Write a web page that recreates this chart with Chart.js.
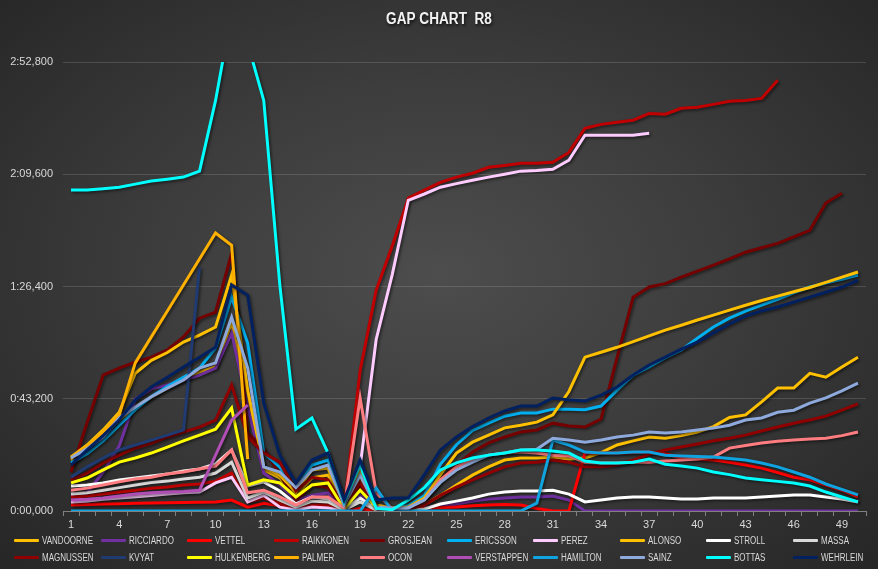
<!DOCTYPE html>
<html>
<head>
<meta charset="utf-8">
<script src="https://cdn.jsdelivr.net/npm/chart.js@4.4.1/dist/chart.umd.min.js"></script>
<style>
  html, body { margin: 0; padding: 0; }
  body {
    width: 878px; height: 569px; overflow: hidden; position: relative;
    background: radial-gradient(ellipse farthest-corner at 50% 48%, #4d4d4d 0%, #3d3d3d 45%, #262626 100%);
  }
  #gap { position: absolute; left: 0; top: 0; }
  #legend {
    position: absolute; left: 14px; top: 532px;
    display: grid; grid-template-columns: repeat(10, 86.5px); grid-auto-rows: 17px;
    font-family: 'Liberation Sans', Arial, sans-serif;
    font-size: 10px; color: #d9d9d9;
  }
  .item { display: flex; align-items: center; white-space: nowrap; }
  .sw { flex: none; width: 25px; height: 3px; margin-right: 3px; border-radius: 1px; }
  .lbl { display: inline-block; transform: scaleX(0.8); transform-origin: left center; }
</style>
</head>
<body>
<canvas id="gap" width="878" height="569"></canvas>
<div id="legend"></div>
<script>
const laps = ['1','2','3','4','5','6','7','8','9','10','11','12','13','14','15','16','17','18','19','20',
  '21','22','23','24','25','26','27','28','29','30','31','32','33','34','35','36','37','38','39','40',
  '41','42','43','44','45','46','47','48','49','50'];

// gap to leader in seconds, per lap
const vandoorne = [19.6, 24, 29, 35, 40, 43.8, 47.3, 50.4, 53.5, 55.4, 72.7, 42.7, 15.8, 12.7, 6, 12.7, 13.8, 1.5, 12, 2.3,
  1.2, 1, 2.5, 6, 10, 13.8, 17, 19.6, 20.4, 20.4, 20.8, 20, 20.4, 22.5, 25.4, 27, 28.5, 28, 29, 30.4,
  32.5, 36, 37, 42, 47.3, 47.3, 53, 51.5, 55.4, 59.2];
const ricciardo = [6, 7, 15, 25, 43, 47, 48.5, 50.4, 52.3, 55, 68.5, 40, 14.6, 10, 4.2, 6, 7, 0.8, 6, 1,
  0.4, 0.8, 1.2, 2, 2.7, 3.8, 4.6, 5, 5.4, 5.4, 5.8, 4.2, 0, 0, 0, 0, 0, 0, 0, 0,
  0, 0, 0, 0, 0, 0, 0, 0, 0, 0];
const vettel = [2.3, 2.5, 2.7, 2.8, 3, 3.1, 3.2, 3.3, 3.4, 3.5, 4.2, 1.5, 3, 2, 0.8, 2, 1.2, 0, 1, 0,
  0, 0.5, 1, 1.3, 1.5, 2, 2.3, 2.5, 2.3, 1, 0, 0, 22.3, 22.3, 22.3, 22.5, 22.7, 22, 20.4, 20,
  19.6, 18.8, 17.7, 16.5, 14.8, 13, 12, 10, 8, 5.4];
const raikkonen = [5.4, 5.8, 6.5, 7.3, 8, 8.8, 9.2, 10, 10.4, 11.5, 14.6, 3.5, 5, 3, 0.8, 2.3, 2.3, 0.4, 54, 85,
  102, 120.4, 123.5, 126.5, 128.5, 130, 132.3, 133, 133.8, 133.8, 134.2, 138, 147.3, 148.8, 149.6, 150.4, 153, 152.7, 155, 155.4,
  156.5, 157.7, 158, 158.8, 165.8, null, null, null, null, null];
const grosjean = [15, 34, 52.3, 55, 57.3, 59.2, 62, 67, 74.2, 76.5, 99.2, 30, 24, 14, 4, 10, 9, 0.8, 9.6, 0.8,
  0.4, 1.2, 4.2, 12, 17.7, 22.7, 26.2, 28.5, 30.4, 31.2, 33.8, 32.7, 32.3, 35.4, 59, 82.3, 86.2, 87.5, 90, 92.3,
  94.6, 97, 99.6, 101.3, 103, 105.5, 108, 118.5, 122.3, null];
const ericsson = [18.5, 22, 27, 33, 39, 44, 48, 51.5, 55, 62.7, 82.3, 64.6, 22.3, 16.9, 8.1, 17.7, 19.6, 3.1, 16.5, 1,
  1, 2, 6, 18, 25.5, 31, 33.8, 36.5, 37.7, 37.7, 39.2, 39.2, 39, 40.4, 46.5, 52.3, 55.4, 59, 62, 66.5,
  70.8, 74.2, 76.9, 79.2, 81.5, 84, 86.2, 87.7, 89.2, 90.8];
const perez = [3.5, 3.8, 4.5, 5, 5.5, 6, 6.5, 7, 7.3, 10.8, 13, 3.5, 6, 1.5, 0.4, 1.5, 1.2, 0, 17, 66,
  91, 119.6, 122, 124.6, 126, 127.3, 128.5, 129.6, 130.8, 131, 131.5, 135, 144.6, 144.6, 144.6, 144.6, 145.4, null, null, null,
  null, null, null, null, null, null, null, null, null, null];
const alonso = [20.8, 25.4, 31.2, 38, 53, 58, 61, 65, 67.7, 70.8, 90.8, 46.5, 17, 13.8, 7.3, 15.8, 16.5, 2, 15, 2,
  1.2, 1.5, 5, 14, 22.3, 26.5, 29.2, 32, 33, 34.2, 37, 46, 59.2, 61.1, 63, 65.2, 67.4, 69.6, 71.5, 73.5,
  75.4, 77.3, 79.2, 81, 82.7, 84.4, 86, 88, 90, 92];
const stroll = [9.6, 10, 10.8, 11.9, 12.7, 13.5, 14.2, 15.4, 16.2, 18.1, 23.5, 9.6, 11.2, 7.7, 2.7, 5.4, 4.6, 0.4, 5, 0.8,
  0.4, 0.4, 0.8, 2.7, 3.8, 5, 6.5, 7.3, 7.7, 7.7, 8, 6.5, 3.5, 4.2, 5, 5.4, 5.4, 5, 4.6, 4.6,
  5, 5, 5, 5.4, 5.8, 6.2, 6.2, 5.4, 4.6, 3.5];
const massa = [6.5, 7, 8, 9, 10, 11, 11.5, 12.3, 13, 14.6, 18.8, 5, 7.3, 4.2, 1.5, 3.8, 3.5, 0.4, 3.5, 0.4,
  0.4, 0.2, null, null, null, null, null, null, null, null, null, null, null, null, null, null, null, null, null, null,
  null, null, null, null, null, null, null, null, null, null];
const magnussen = [12, 14.6, 18.5, 21.5, 24.2, 26, 28.5, 30.4, 32.3, 35, 48.5, 28.5, 22.3, 18.8, 7.7, 13, 12, 1.5, 11, 1.2,
  0.8, 0.8, 2.3, 6, 9.2, 12, 14.6, 17, 18.5, 18.8, 19.6, 18.8, 17, 17, 17.7, 19.6, 21.9, 23.5, 24.6, 25.8,
  27, 28, 29.2, 30.8, 32.3, 33.8, 35, 36.5, 38.8, 41.2];
const kvyat = [13, 17, 20.4, 23.5, 25.4, 27.3, 29.2, 31.2, 93.8, null, null, null, null, null, null, null, null, null, null, null,
  null, null, null, null, null, null, null, null, null, null, null, null, null, null, null, null, null, null, null, null,
  null, null, null, null, null, null, null, null, null, null];
const hulkenberg = [10.8, 12.7, 15.8, 18.8, 20.4, 22.3, 24.6, 27, 29.2, 31.5, 39.6, 10, 12, 10.8, 5.4, 10, 10.8, 0.8, 8, 1.5,
  0.8, null, null, null, null, null, null, null, null, null, null, null, null, null, null, null, null, null, null, null,
  null, null, null, null, null, null, null, null, null, null];
const palmer = [20.4, 25, 30.5, 37, 57, 67, 77, 87, 97, 107, 102.3, 20, null, null, null, null, null, null, null, null,
  null, null, null, null, null, null, null, null, null, null, null, null, null, null, null, null, null, null, null, null,
  null, null, null, null, null, null, null, null, null, null];
const ocon = [8, 8.8, 10, 11.2, 12.3, 13, 14.2, 15, 16.2, 17.3, 23.5, 7, 8, 5.4, 2.3, 5.4, 5.4, 1.2, 43.5, 7,
  0.8, 1.2, 4.2, 12, 17, 19.6, 21.5, 22.3, 22.7, 22.3, 21.5, 21.2, 18.8, 18.5, 18.5, 18.8, 18.8, 19.2, 19.6, 20,
  20.8, 24.2, 25.2, 26.2, 26.8, 27.3, 27.7, 28, 29, 30.4];
const verstappen = [4.2, 4.5, 5, 5.8, 6.5, 7, 7.3, 7.5, 8, 21.5, 35, 40.8, null, null, null, null, null, null, null, null,
  null, null, null, null, null, null, null, null, null, null, null, null, null, null, null, null, null, null, null, null,
  null, null, null, null, null, null, null, null, null, null];
const hamilton = [0, 0, 0, 0, 0, 0, 0, 0, 0, 0, 0, 0, 0, 0, 0, 0, 0, 0, 0, 8.8,
  0, 0, 0, 0, 0, 0, 0, 0, 0, 3, 27.3, 25.4, 22.7, 22.3, 22.3, 22.7, 22.7, 21.5, 21.2, 21,
  20.8, 20.2, 19.6, 18.5, 17, 15, 13, 10.4, 8.3, 6.2];
const sainz = [20.4, 24, 28.5, 35.8, 40, 44, 47.3, 50.4, 55, 57, 74.6, 55, 17, 15, 9, 15.8, 17.7, 2.3, 13.8, 1.5,
  1.2, 1.2, 4.2, 11, 15.8, 18.8, 21.5, 22.3, 23.5, 23.8, 28, 27.3, 26.5, 27.3, 28.5, 29.2, 30.4, 30, 30.4, 31.2,
  31.9, 33, 35, 35.8, 38, 38.8, 41.5, 43.5, 46.2, 49.2];
const bottas = [123.5, 123.5, 124, 124.6, 125.8, 127, 127.7, 128.5, 130.8, 158, 192, 180, 158, 87, 31.5, 35.8, 22.3, 3.5, 17.7, 1,
  0.5, 4.2, 9, 15.8, 18.5, 20.4, 21.5, 22.3, 23.5, 23.5, 23.1, 22.3, 19.2, 18.5, 18.5, 18.8, 20, 18, 17.3, 16.5,
  15, 14, 12.7, 12, 11.4, 10.8, 9.6, 7.3, 5.4, 3.5];
const wehrlein = [17.7, 23.5, 29, 35, 42.7, 47.7, 51.5, 55.4, 59.2, 63, 87, 83, 41.5, 21.5, 10.8, 19.6, 22.3, 4.2, 19.6, 4.2,
  5, 5, 14, 23.5, 28.5, 32.5, 35.8, 38.5, 40.4, 40.4, 43.5, 42.7, 42.3, 44.6, 47.7, 52.3, 56.2, 59.2, 62.3, 65,
  68.5, 72, 75, 77, 78.5, 80.4, 82.3, 84.2, 86.2, 88.8];

const drivers = ['VANDOORNE', 'RICCIARDO', 'VETTEL', 'RAIKKONEN', 'GROSJEAN', 'ERICSSON', 'PEREZ', 'ALONSO', 'STROLL', 'MASSA',
  'MAGNUSSEN', 'KVYAT', 'HULKENBERG', 'PALMER', 'OCON', 'VERSTAPPEN', 'HAMILTON', 'SAINZ', 'BOTTAS', 'WEHRLEIN'];
const series = [vandoorne, ricciardo, vettel, raikkonen, grosjean, ericsson, perez, alonso, stroll, massa,
  magnussen, kvyat, hulkenberg, palmer, ocon, verstappen, hamilton, sainz, bottas, wehrlein];
const colours = ['#FFC000', '#7030A0', '#FF0000', '#C00000', '#760000', '#00B0F0', '#FFCCFF', '#FFC000', '#FFFFFF', '#D9D9D9',
  '#900000', '#203B72', '#FFFF00', '#FFB000', '#FF7C80', '#B14EB5', '#0FA3E0', '#8EA9DB', '#00FFFF', '#002060'];

const yTicks = [0, 43.2, 86.4, 129.6, 172.8];
const yTickLabels = ['0:00,000', '0:43,200', '1:26,400', '2:09,600', '2:52,800'];
const titleText = 'GAP CHART  R8';

const tickFont = { family: "'Liberation Sans', Arial, sans-serif", size: 11 };

// soft drop shadow under each line, like the spreadsheet effect
const lineShadow = {
  id: 'lineShadow',
  beforeDatasetDraw(chart) {
    const c = chart.ctx;
    c.save();
    c.shadowColor = 'rgba(0,0,0,0.55)';
    c.shadowBlur = 3;
    c.shadowOffsetX = 1.5;
    c.shadowOffsetY = 1.5;
  },
  afterDatasetDraw(chart) {
    chart.ctx.restore();
  }
};

// narrow bold title with a shadow
const gapTitle = {
  id: 'gapTitle',
  afterDraw(chart) {
    const c = chart.ctx;
    c.save();
    c.font = "bold 16px 'Liberation Sans', Arial, sans-serif";
    c.fillStyle = '#f2f2f2';
    c.textAlign = 'center';
    c.textBaseline = 'middle';
    c.shadowColor = 'rgba(0,0,0,0.7)';
    c.shadowBlur = 3;
    c.shadowOffsetX = 1;
    c.shadowOffsetY = 1.5;
    c.translate(439, 20);
    c.scale(0.85, 1);
    c.fillText(titleText, 0, 0);
    c.restore();
  }
};

const datasets = drivers.map((name, i) => ({
  label: name,
  data: series[i],
  borderColor: colours[i],
  backgroundColor: colours[i],
  borderWidth: 3,
  pointRadius: 0,
  pointHoverRadius: 0,
  tension: 0,
  fill: false,
  order: drivers.length - i
}));

const chart = new Chart(document.getElementById('gap'), {
  type: 'line',
  data: { labels: laps, datasets: datasets },
  options: {
    responsive: false,
    animation: false,
    devicePixelRatio: 1,
    layout: { padding: { left: 0, right: 12, top: 62, bottom: 36 } },
    plugins: {
      legend: { display: false },
      tooltip: { enabled: false },
      title: { display: false }
    },
    scales: {
      x: {
        offset: true,
        grid: { display: true, drawOnChartArea: false, drawTicks: true, tickLength: 5, color: '#808080', offset: true },
        border: { display: true, color: '#808080', width: 1 },
        ticks: {
          color: '#d9d9d9', font: tickFont, autoSkip: false, maxRotation: 0, padding: 2,
          callback: (v, i) => (i % 3 === 0 ? laps[i] : '')
        },
        afterFit: s => { s.height = 22; }
      },
      y: {
        min: 0,
        max: 172.8,
        afterBuildTicks: s => { s.ticks = yTicks.map(v => ({ value: v })); },
        grid: { color: 'rgba(255,255,255,0.14)', drawTicks: false, lineWidth: 1 },
        border: { display: false },
        ticks: {
          color: '#d9d9d9', font: tickFont, padding: 10,
          callback: (v, i) => yTickLabels[i]
        },
        afterFit: s => { s.width = 63; }
      }
    }
  },
  plugins: [lineShadow, gapTitle]
});

// legend as two rows of ten, same order as the series
const legend = document.getElementById('legend');
chart.data.datasets.forEach(ds => {
  const item = document.createElement('div');
  item.className = 'item';
  const sw = document.createElement('span');
  sw.className = 'sw';
  sw.style.background = ds.borderColor;
  const txt = document.createElement('span');
  txt.className = 'lbl';
  txt.textContent = ds.label;
  item.appendChild(sw);
  item.appendChild(txt);
  legend.appendChild(item);
});
</script>
</body>
</html>
